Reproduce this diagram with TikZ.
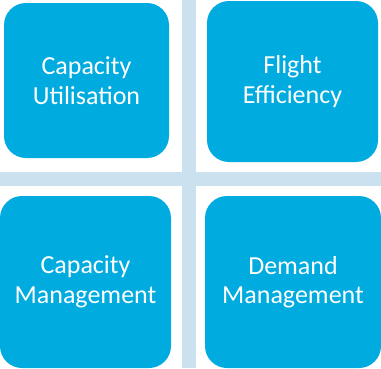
\documentclass[tikz,border=0pt]{standalone}
\usepackage{fontspec}
\setmainfont{Carlito}
\definecolor{tileblue}{RGB}{0,171,224}
\definecolor{barblue}{RGB}{204,225,240}

\begin{document}
\begin{tikzpicture}[x=1pt,y=-1pt,
    tile/.style={fill=tileblue, rounded corners=22pt, inner sep=0pt, outer sep=0pt,
        text=white, align=center, font=\fontsize{26}{29.5}\selectfont},
    bar/.style={fill=barblue, draw=none}]
    \useasboundingbox (0,0) rectangle (381,368);

    % Cross
    \path[bar] (182,0) rectangle (196,368);
    \path[bar] (0,172) rectangle (381,186);

    % Tiles
    \node[tile, minimum width=165pt, minimum height=155pt] (util) at (86.5,80.5) {Capacity\\Utilisation};
    \node[tile, minimum width=171pt, minimum height=161pt] (flight) at (292.5,81.5) {Flight\\Efficiency};
    \node[tile, minimum width=171pt, minimum height=172pt] (capman) at (85.5,282) {Capacity\\Management};
    \node[tile, minimum width=176pt, minimum height=172pt] (demman) at (293,282) {Demand\\Management};
\end{tikzpicture}
\end{document}
